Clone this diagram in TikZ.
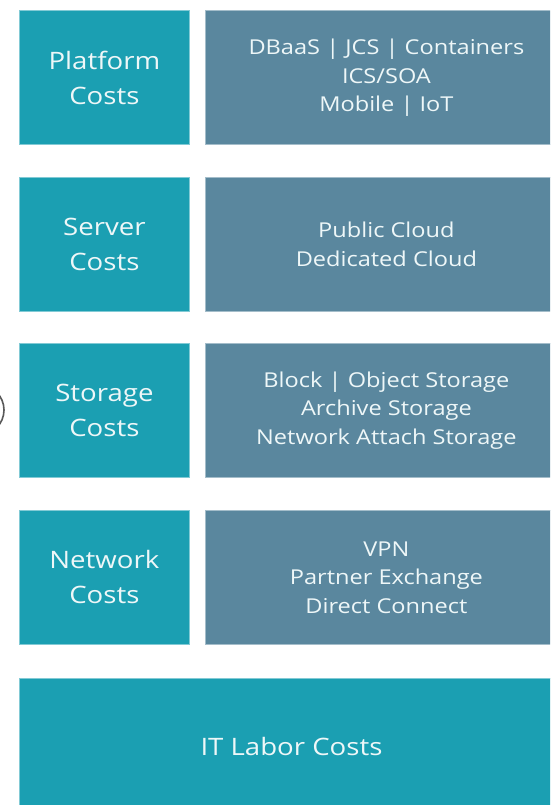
\documentclass[tikz,border=0pt]{standalone}
\usepackage{fontspec}
\setmainfont[FakeStretch=1.15]{Open Sans}
\definecolor{tealbox}{HTML}{1B9FB2}
\definecolor{slatebox}{HTML}{5A879E}
\definecolor{txt}{HTML}{EEF7F8}
\begin{document}
\begin{tikzpicture}[x=1pt,y=-1pt,
  box/.style={rectangle, anchor=north west, inner sep=0pt, line width=0.8pt, text=txt, align=center},
  costbox/.style={box, fill=tealbox, draw=tealbox!55!white, minimum width=170pt, minimum height=134pt, font=\fontsize{24}{35}\selectfont},
  itembox/.style={box, fill=slatebox, draw=slatebox!55!white, minimum width=362pt, minimum height=134pt, font=\fontsize{20.5}{28.5}\selectfont},
  labbox/.style={box, fill=tealbox, draw=tealbox!55!white, minimum width=550pt, minimum height=150pt},
  lbl/.style={text=txt, font=\fontsize{24}{35}\selectfont, inner sep=0pt}
]
\useasboundingbox (0,0) rectangle (550,805);
\fill[white] (0,0) rectangle (550,805);
\clip (0,0) rectangle (550,805);

\draw[black!65, line width=1.6pt] (-21,410) circle[radius=25];

\node[costbox] (plat) at (19,10.5) {Platform\\Costs};
\node[itembox] (platI) at (205,10.5) {DBaaS | JCS | Containers\\ICS/SOA\\Mobile | IoT};

\node[costbox] (serv) at (19,177) {Server\\Costs};
\node[itembox] (servI) at (205,177) {Public Cloud\\Dedicated Cloud};

\node[costbox] (stor) at (19,343) {Storage\\Costs};
\node[itembox] (storI) at (205,343) {Block | Object Storage\\Archive Storage\\Network Attach Storage};

\node[costbox] (net) at (19,510) {Network\\Costs};
\node[itembox] (netI) at (205,510) {VPN\\Partner Exchange\\Direct Connect};

\node[labbox] (itb) at (19,678) {};
\node[lbl] (itt) at (291.5,746) {IT Labor Costs};
\end{tikzpicture}
\end{document}
